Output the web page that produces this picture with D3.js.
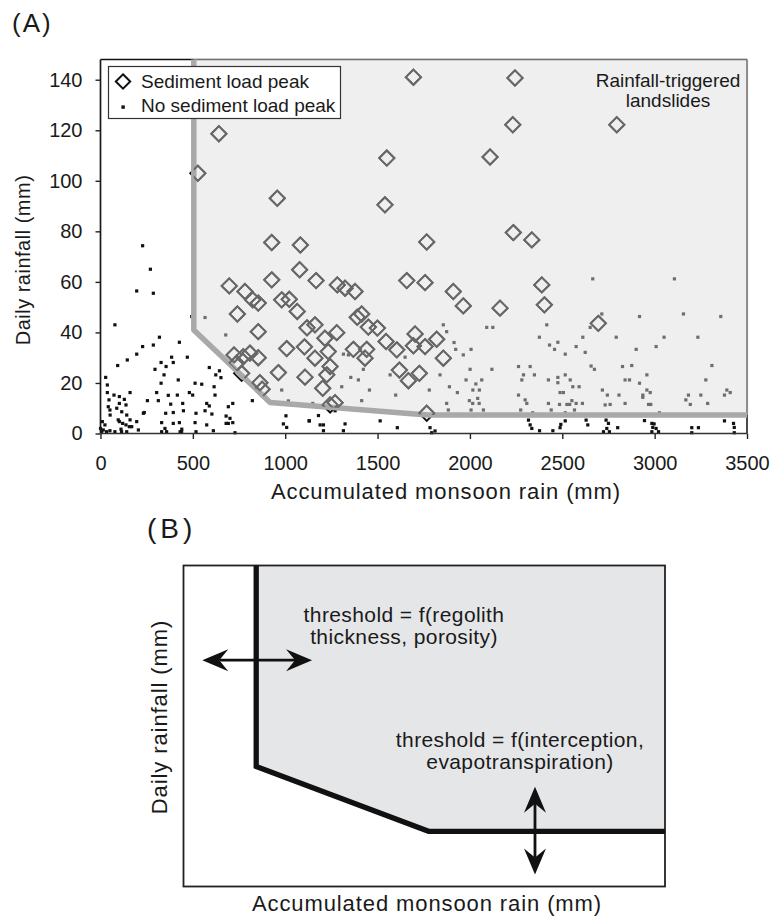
<!DOCTYPE html>
<html><head><meta charset="utf-8">
<script src="https://cdn.jsdelivr.net/npm/d3@7"></script>
<style>body{margin:0;background:#fff} text{font-family:"Liberation Sans",Arial,Helvetica,sans-serif;fill:#1a1a1a}</style>
</head><body>
<svg id="c" width="771" height="919"></svg>
<script>
// ---------- DATA (panel A) ----------
const xTicks = [0,500,1000,1500,2000,2500,3000,3500];
const yTicks = [0,20,40,60,80,100,120,140];
const legendLabels = ["Sediment load peak","No sediment load peak"];
const regionLabel = ["Rainfall-triggered","landslides"];
const xTitle = "Accumulated monsoon rain (mm)";
const yTitle = "Daily rainfall (mm)";
// threshold (accumulated mm, daily mm)
const thrX = [505,505,918,1770,3500];
const thrY = [148,41,12.3,7.3,7.3];
// sediment load peaks [accumulated, daily]
const peaks = [[527,103],[641,118.6],[957,93.1],[927,75.6],[1082,74.6],[1078,64.8],[927,60.8],[697,58.4],[782,56.2],[824,52.9],
[854,51.6],[981,52.9],[1022,53.1],[1065,48.3],[741,47.3],[854,40.3],[1118,41.8],[1008,33.6],[1104,34.3],[723,31.1],
[773,30.4],[809,31.8],[854,30.0],[737,27.8],[764,23.8],[963,24.1],[1107,22.3],[863,20.1],[875,17.5],[1766,75.8],
[1167,60.5],[1282,58.8],[1324,57.5],[1378,56.2],[1658,60.5],[1757,59.7],[1910,56.2],[1964,50.5],[2163,49.6],[1390,46],
[1414,47.3],[1161,43],[1279,39.9],[1215,37.7],[1450,42.1],[1499,41.7],[1546,36.4],[1604,33.1],[1703,39.4],[1694,34.7],
[1757,34.4],[1820,37.3],[1369,33.3],[1441,33.3],[1233,32.4],[1161,29.8],[1432,29.8],[1856,29.8],[1243,26.5],[1225,23.2],
[1618,25.1],[1726,23.8],[1667,20.9],[1203,17.9],[1243,11.3],[1270,12.2],[1766,8],[1694,141],[2244,140.7],[2232,122.2],
[2109,109.4],[1550,109],[1540,90.5],[2235,79.5],[2795,122.2],[2335,76.6],[2389,58.8],[2403,50.9],[2695,43.6]];
// no sediment load peak [accumulated, daily]
const noPeaks = [[228,74.3],[270,65],[196,56.4],[286,55.5],[78,43],[494,46.3],[566,45.9],[678,39],[319,38.1],[228,34.4],
[286,35],[427,36.1],[196,31.4],[145,29.1],[93,26.9],[385,30.2],[394,28.1],[470,30.2],[328,28.1],[355,26.5],[295,25.4],
[589,26.1],[644,24.8],[624,23.2],[652,22.1],[28,22.2],[37,19.2],[344,23.2],[421,21.2],[512,19.9],[548,19.5],[615,18.5],
[328,19.9],[37,16.2],[73,15.2],[102,14.6],[129,13.5],[160,16.2],[481,16.2],[499,15.2],[304,16.2],[367,15.1],[416,15.2],
[620,15.2],[46,13.3],[102,11.9],[138,11.3],[254,13],[313,13],[380,11.6],[445,11.9],[575,11.9],[589,10.9],[716,11.9],
[692,10.6],[822,13],[51,9.3],[88,10],[115,8.6],[142,7.3],[237,8.3],[353,8],[394,8.3],[449,9],[517,8],[566,9],[603,7.7],
[680,6.9],[701,6],[716,4.3],[680,4],[10,4.7],[24,3.4],[15,1.4],[51,1.1],[102,4.7],[120,4],[138,3.4],[156,2.7],[111,1.7],
[142,0.7],[196,4.7],[205,1.4],[331,4.3],[349,2],[331,0.7],[358,0.7],[427,4.3],[440,1.7],[431,0.7],[512,4.3],[517,0.7],
[575,3.4],[611,1.1],[728,0.3],[990,3.8],[1008,2.4],[1004,7],[1017,12.9],[981,17.2],[1129,5],[0,2],[6,0.7],
[33,0.7],[52,7.3],[96,5.4],[114,0.7],[160,5.4],[169,2.7],[78,0.7],[394,4],[439,0.7],[692,4],[232,8],[42,10.6],
[1131,5],[1180,7.1],[1189,3.4],[1207,3.4],[1207,1.1],[1315,1.1],[1324,3.8],[1270,9],[1514,5],[1607,2.3],[1784,2.3],
[1793,0.3],[1811,1],[1149,11.9],[1414,13],[1456,17.2],[1306,18.5],[1355,22.2],[1396,21.2],[1423,25.4],[1315,31.4],
[1342,31.1],[1568,23.2],[1598,15.2],[1649,30.2],[1780,17.2],[1838,23.2],[1856,43],[1874,40.3],[1914,36],[1923,33.3],
[1964,31.1],[2006,33.3],[2001,25.4],[1979,21.2],[2032,19.6],[2016,17.2],[2051,17.2],[2064,21.2],[1932,16.2],[1889,18.5],
[2042,13.9],[1997,13],[2015,11.9],[2050,11.9],[1874,11.9],[1883,9.3],[2006,9.3],[2073,9.3],[2024,7.1],[2091,42],
[2124,42],[2119,25.4],
[2665,61.2],[3107,61.2],[2714,47.3],[2651,42],[2918,46.3],[3156,47.3],[3358,46.3],[2416,43],[2376,38.1],[2431,35],
[2458,33.3],[2476,36.1],[2516,31.4],[2575,34.4],[2611,38.1],[2624,32.1],[2792,38.1],[2900,33.3],[3008,34.4],[3051,38.1],
[3234,38.1],[3310,26.9],[2263,26.5],[2326,26.5],[2290,23.2],[2349,23.2],[2281,21.2],[2425,21.2],[2476,22.2],[2476,20.1],
[2516,23.2],[2543,21.2],[2557,18.5],[2591,18.5],[2656,26.7],[2674,25.4],[2826,26.5],[2876,26.9],[2958,23.2],[2840,21.2],
[2864,21.2],[2918,19.9],[2717,17.2],[2744,15.2],[2807,15.2],[2936,15.2],[2936,14.3],[2958,17.2],[2976,16.2],[3277,21.2],
[3183,15.2],[3250,15.2],[3391,17.2],[3409,16.2],[3378,15.2],[2263,15.2],[2299,13.3],[2308,11.9],[2275,9.3],[2340,8.2],
[2425,11.9],[2440,9.3],[2488,16.2],[2506,16.2],[2485,11.5],[2525,11.5],[2540,11.5],[2552,13],[2575,11.9],[2609,11.9],
[2516,8.2],[2566,9.3],[2584,7.3],[2434,7.3],[2629,5.3],[2638,3.4],[2516,5],[2492,3.6],[2488,2.3],[2449,1.1],[2377,1.1],
[2317,5.3],[2326,3.4],[2335,2],[2732,11.3],[2759,11.5],[2723,7.3],[2737,5.3],[2750,4],[2741,2],[2723,0.7],[2755,0.7],
[2800,2.3],[2840,11.9],[2945,5.1],[2967,11.5],[2979,11.5],[2976,7.3],[3026,8.2],[2985,4],[2997,3.8],[2990,2.4],[3008,2],
[2985,0.7],[3021,0.7],[3201,2.3],[3237,2.3],[3201,0.3],[3169,13.3],[3193,11.5],[3287,11.9],[3418,7.3],[3378,5],[3427,4],
[3431,2.4],[3431,0.3]];

// ---------- DATA (panel B, schematic units 0..1) ----------
const schemX = [0.151,0.151,0.509,1];
const schemY = [1,0.374,0.172,0.172];
const arrowH = [[0.039,0.705],[0.267,0.705]];
const arrowV = [[0.730,0.311],[0.730,0.037]];
const noteTop = ["threshold = f(regolith","thickness, porosity)"];
const noteBottom = ["threshold = f(interception,","evapotranspiration)"];

// ---------- DRAW ----------
const svg = d3.select("#c");
const x = d3.scaleLinear().domain([0,3500]).range([100.5,747]);
const y = d3.scaleLinear().domain([0,148]).range([433.5,59.5]);
const diamond = (cx,cy,r)=>`M${cx},${cy-r}L${cx+r},${cy}L${cx},${cy+r}L${cx-r},${cy}Z`;

const gA = svg.append("g");
const regionPts = thrX.map((v,i)=>[x(v),y(thrY[i])]);
const regionPoly = [[x(thrX[0]),y(148)-1.5]].concat(regionPts.slice(1))
  .concat([[x(3500)+1.5,y(thrY[thrY.length-1])],[x(3500)+1.5,y(148)-1.5]]);
const polyPath = "M"+regionPoly.map(p=>p.join(",")).join("L")+"Z";
svg.append("defs").append("clipPath").attr("id","clipR").append("path").attr("d",polyPath);

// points (black) drawn first
gA.append("g").selectAll("rect").data(noPeaks).join("rect")
  .attr("x",d=>x(d[0])-1.6).attr("y",d=>y(d[1])-1.6).attr("width",3.2).attr("height",3.2).attr("fill","#111");
gA.append("g").selectAll("path").data(peaks).join("path")
  .attr("d",d=>diamond(x(d[0]),y(d[1]),7.6)).attr("fill","none").attr("stroke","#111").attr("stroke-width",1.9);

// frame
gA.append("line").attr("x1",x(0)).attr("x2",x(3500)).attr("y1",y(148)).attr("y2",y(148)).attr("stroke","#111").attr("stroke-width",1.5);
gA.append("line").attr("x1",x(3500)).attr("x2",x(3500)).attr("y1",y(148)).attr("y2",y(0)).attr("stroke","#111").attr("stroke-width",1.5);

// axes
const ax = gA.append("g").attr("transform",`translate(0,${y(0)})`)
  .call(d3.axisBottom(x).tickValues(xTicks).tickSize(5.5).tickPadding(17).tickFormat(d3.format("d")));
const ay = gA.append("g").attr("transform",`translate(${x(0)},0)`)
  .call(d3.axisLeft(y).tickValues(yTicks).tickSize(5).tickPadding(13).tickFormat(d3.format("d")));
[ax,ay].forEach(a=>{
  a.select(".domain").remove();
  a.selectAll(".tick line").attr("stroke","#222").attr("stroke-width",1.4);
  a.selectAll(".tick text").attr("font-size",20).attr("font-family","Liberation Sans, Arial, sans-serif").attr("fill","#1a1a1a");
});
gA.append("line").attr("x1",x(0)).attr("x2",x(0)).attr("y1",y(148)).attr("y2",y(0)).attr("stroke","#1a1a1a").attr("stroke-width",1.7);
gA.append("line").attr("x1",x(0)).attr("x2",x(3500)).attr("y1",y(0)).attr("y2",y(0)).attr("stroke","#333").attr("stroke-width",1.7);

// translucent region overlay
gA.append("path").attr("d",polyPath).attr("fill","rgb(220,220,220)").attr("fill-opacity",0.46);
// threshold line
gA.append("path").attr("d",d3.line()(regionPts)).attr("fill","none").attr("stroke","#a9a9a9").attr("stroke-width",5.5).attr("stroke-linejoin","round");
// diamonds redrawn inside region (gray)
gA.append("g").attr("clip-path","url(#clipR)").selectAll("path").data(peaks).join("path")
  .attr("d",d=>diamond(x(d[0]),y(d[1]),7.6)).attr("fill","none").attr("stroke","#676767").attr("stroke-width",1.9);

// legend
const lg = gA.append("g");
lg.append("rect").attr("x",108.5).attr("y",66.5).attr("width",232).attr("height",52).attr("fill","#fff").attr("stroke","#333").attr("stroke-width",1.2);
lg.append("path").attr("d",diamond(123,81.5,7.2)).attr("fill","none").attr("stroke","#111").attr("stroke-width",2);
lg.append("rect").attr("x",121.4).attr("y",105.4).attr("width",3.4).attr("height",3.4).attr("fill","#111");
lg.selectAll("text").data(legendLabels).join("text").attr("x",141).attr("y",(d,i)=>87.5+i*24.3)
  .attr("font-size",19).text(d=>d);

// region label
gA.selectAll("text.rl").data(regionLabel).join("text").attr("class","rl").attr("x",668).attr("y",(d,i)=>87.3+i*19.5)
  .attr("text-anchor","middle").attr("font-size",19).text(d=>d);

// titles
gA.append("text").attr("x",446).attr("y",499).attr("text-anchor","middle").attr("font-size",22).attr("letter-spacing",0.9).text(xTitle);
gA.append("text").attr("transform","translate(30,260) rotate(-90)").attr("text-anchor","middle").attr("font-size",20).attr("letter-spacing",0.5).text(yTitle);
svg.append("text").attr("x",12).attr("y",32).attr("font-size",26).attr("letter-spacing",2).text("(A)");

// ---------- Panel B ----------
const bx = d3.scaleLinear().domain([0,1]).range([183.5,665]);
const by = d3.scaleLinear().domain([0,1]).range([886.5,565.5]);
const gB = svg.append("g");
const schemPts = schemX.map((v,i)=>[bx(v),by(schemY[i])]);
gB.append("path").attr("d","M"+schemPts.concat([[bx(1),by(1)]]).map(p=>p.join(",")).join("L")+"Z").attr("fill","#e5e6e8");
gB.append("rect").attr("x",bx(0)).attr("y",by(1)).attr("width",bx(1)-bx(0)).attr("height",by(0)-by(1))
  .attr("fill","none").attr("stroke","#222").attr("stroke-width",1.8);
gB.append("path").attr("d",d3.line()(schemPts)).attr("fill","none").attr("stroke","#111").attr("stroke-width",5.3).attr("stroke-linejoin","miter");

function dblArrow(g,p1,p2){
  const [x1,y1]=p1,[x2,y2]=p2;
  const dx=x2-x1, dy=y2-y1, L=Math.hypot(dx,dy), ux=dx/L, uy=dy/L, nx=-uy, ny=ux;
  const len=26, w=11, notch=17;
  g.append("line").attr("x1",x1+ux*notch).attr("y1",y1+uy*notch).attr("x2",x2-ux*notch).attr("y2",y2-uy*notch)
    .attr("stroke","#111").attr("stroke-width",2.8);
  const head=(tx,ty,sx,sy)=>`M${tx},${ty}L${tx+sx*len+nx*w},${ty+sy*len+ny*w}L${tx+sx*notch},${ty+sy*notch}L${tx+sx*len-nx*w},${ty+sy*len-ny*w}Z`;
  g.append("path").attr("d",head(x1,y1,ux,uy)).attr("fill","#111");
  g.append("path").attr("d",head(x2,y2,-ux,-uy)).attr("fill","#111");
}
dblArrow(gB,[bx(arrowH[0][0]),by(arrowH[0][1])],[bx(arrowH[1][0]),by(arrowH[1][1])]);
dblArrow(gB,[bx(arrowV[0][0]),by(arrowV[0][1])],[bx(arrowV[1][0]),by(arrowV[1][1])]);

gB.selectAll("text.n1").data(noteTop).join("text").attr("class","n1").attr("x",404).attr("y",(d,i)=>622+i*21.5)
  .attr("text-anchor","middle").attr("font-size",21).attr("letter-spacing",0.4).text(d=>d);
gB.selectAll("text.n2").data(noteBottom).join("text").attr("class","n2").attr("x",520).attr("y",(d,i)=>747+i*21.5)
  .attr("text-anchor","middle").attr("font-size",21).attr("letter-spacing",0.4).text(d=>d);
gB.append("text").attr("x",427).attr("y",911).attr("text-anchor","middle").attr("font-size",22).attr("letter-spacing",0.9).text(xTitle);
gB.append("text").attr("transform","translate(167,717) rotate(-90)").attr("text-anchor","middle").attr("font-size",22).attr("letter-spacing",0.9).text(yTitle);
svg.append("text").attr("x",147).attr("y",538).attr("font-size",28).attr("letter-spacing",4).text("(B)");
</script>
</body></html>
